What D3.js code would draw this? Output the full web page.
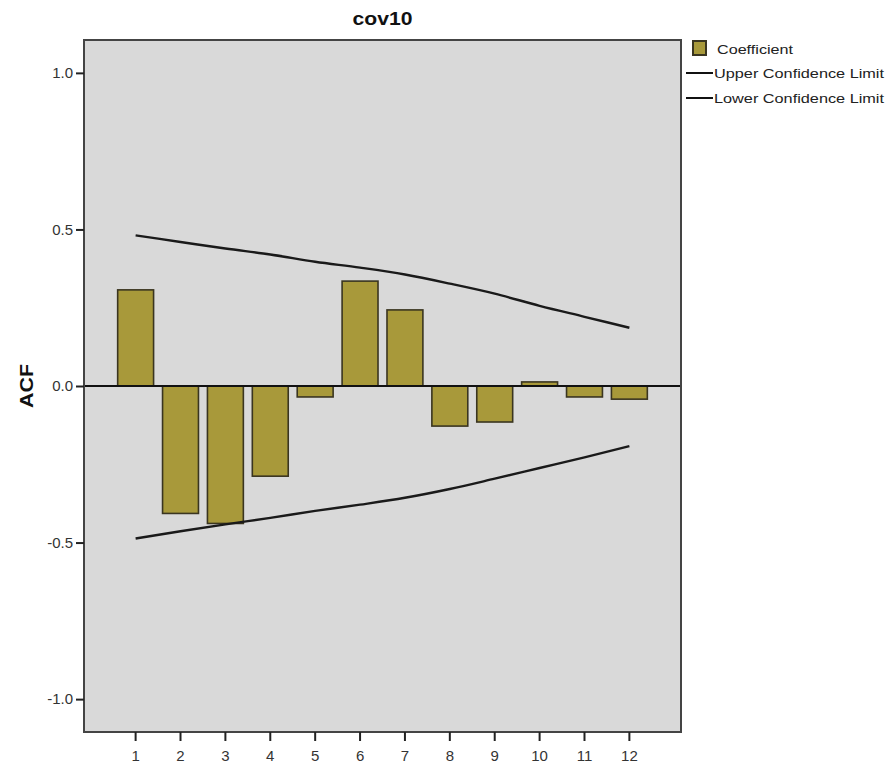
<!DOCTYPE html>
<html lang="en">
<head>
    <meta charset="UTF-8">
    <title>cov10</title>
    <script src="https://d3js.org/d3.v7.min.js"></script>
    <style>
        body { margin: 0; background: #fff; }
        text { font-family: "Liberation Sans", Arial, sans-serif; }
    </style>
</head>
<body>
    <svg id="chart"></svg>
    <script>
const width = 889, height = 769;

// data
const lags = [1, 2, 3, 4, 5, 6, 7, 8, 9, 10, 11, 12];
const coefficient = [0.307, -0.407, -0.439, -0.288, -0.035, 0.335, 0.243, -0.128, -0.115, 0.013, -0.035, -0.042];
const upperLimit = [0.481, 0.460, 0.439, 0.420, 0.397, 0.378, 0.356, 0.327, 0.295, 0.256, 0.221, 0.186];
const lowerLimit = [-0.487, -0.464, -0.442, -0.421, -0.399, -0.379, -0.357, -0.329, -0.296, -0.262, -0.228, -0.192];
const yTicks = [-1.0, -0.5, 0.0, 0.5, 1.0];
const legendLabels = ["Coefficient", "Upper Confidence Limit", "Lower Confidence Limit"];

const plot = { left: 84, right: 681, top: 40, bottom: 732 };

const svg = d3.select("#chart")
    .attr("width", width)
    .attr("height", height);

const x = d3.scaleBand()
    .domain(lags)
    .range([plot.left, plot.right])
    .paddingInner(0.2)
    .paddingOuter(0.75);

const y = d3.scaleLinear()
    .domain([-1.105, 1.105])
    .range([plot.bottom, plot.top]);

// plot background
svg.append("rect")
    .attr("x", plot.left).attr("y", plot.top)
    .attr("width", plot.right - plot.left)
    .attr("height", plot.bottom - plot.top)
    .attr("fill", "#d9d9d9");

// bars
svg.selectAll("rect.bar")
    .data(lags)
    .join("rect")
    .attr("class", "bar")
    .attr("x", d => x(d))
    .attr("width", x.bandwidth())
    .attr("y", (d, i) => y(Math.max(0, coefficient[i])))
    .attr("height", (d, i) => Math.abs(y(coefficient[i]) - y(0)))
    .attr("fill", "#a8993a")
    .attr("stroke", "#3a3520")
    .attr("stroke-width", 1.6);

// confidence limits
const line = d3.line()
    .x(d => x(d[0]) + x.bandwidth() / 2)
    .y(d => y(d[1]))
    .curve(d3.curveMonotoneX);

[upperLimit, lowerLimit].forEach(arr => {
    svg.append("path")
        .datum(lags.map((l, i) => [l, arr[i]]))
        .attr("d", line)
        .attr("fill", "none")
        .attr("stroke", "#1a1a1a")
        .attr("stroke-width", 2.4);
});

// zero line
svg.append("line")
    .attr("x1", plot.left).attr("x2", plot.right)
    .attr("y1", y(0)).attr("y2", y(0))
    .attr("stroke", "#111")
    .attr("stroke-width", 2);

// frame
svg.append("rect")
    .attr("x", plot.left).attr("y", plot.top)
    .attr("width", plot.right - plot.left)
    .attr("height", plot.bottom - plot.top)
    .attr("fill", "none")
    .attr("stroke", "#444")
    .attr("stroke-width", 2);

// axes
const yAxis = svg.append("g")
    .attr("transform", `translate(${plot.left},0)`)
    .call(d3.axisLeft(y).tickValues(yTicks).tickFormat(d => d.toFixed(1)).tickSize(8).tickPadding(3));
const xAxis = svg.append("g")
    .attr("transform", `translate(0,${plot.bottom})`)
    .call(d3.axisBottom(x).tickSize(9).tickPadding(9));

[yAxis, xAxis].forEach(g => {
    g.select(".domain").remove();
    g.selectAll(".tick line").attr("stroke", "#222").attr("stroke-width", 2);
    g.selectAll(".tick text").attr("font-size", 15).attr("fill", "#333");
});

// title
svg.append("text")
    .attr("x", (plot.left + plot.right) / 2)
    .attr("y", 25)
    .attr("text-anchor", "middle")
    .attr("font-size", 19)
    .attr("font-weight", "bold")
    .attr("fill", "#111")
    .attr("textLength", 60)
    .attr("lengthAdjust", "spacingAndGlyphs")
    .text("cov10");

// y label
svg.append("text")
    .attr("transform", `translate(33,${y(0)}) rotate(-90)`)
    .attr("text-anchor", "middle")
    .attr("font-size", 19)
    .attr("font-weight", "bold")
    .attr("fill", "#111")
    .attr("textLength", 44)
    .attr("lengthAdjust", "spacingAndGlyphs")
    .text("ACF");

// legend
const legend = svg.append("g");
legend.append("rect")
    .attr("x", 693).attr("y", 41)
    .attr("width", 13).attr("height", 14)
    .attr("fill", "#a8993a")
    .attr("stroke", "#3a3520")
    .attr("stroke-width", 2);
[73, 98].forEach(ly => {
    legend.append("line")
        .attr("x1", 686).attr("x2", 713)
        .attr("y1", ly).attr("y2", ly)
        .attr("stroke", "#111")
        .attr("stroke-width", 2);
});
legend.selectAll("text")
    .data(legendLabels)
    .join("text")
    .attr("x", (d, i) => i === 0 ? 717 : 714)
    .attr("y", (d, i) => [54, 78, 103][i])
    .attr("font-size", 13)
    .attr("fill", "#222")
    .attr("textLength", (d, i) => [76, 170, 170][i])
    .attr("lengthAdjust", "spacingAndGlyphs")
    .text(d => d);
    </script>
</body>
</html>
